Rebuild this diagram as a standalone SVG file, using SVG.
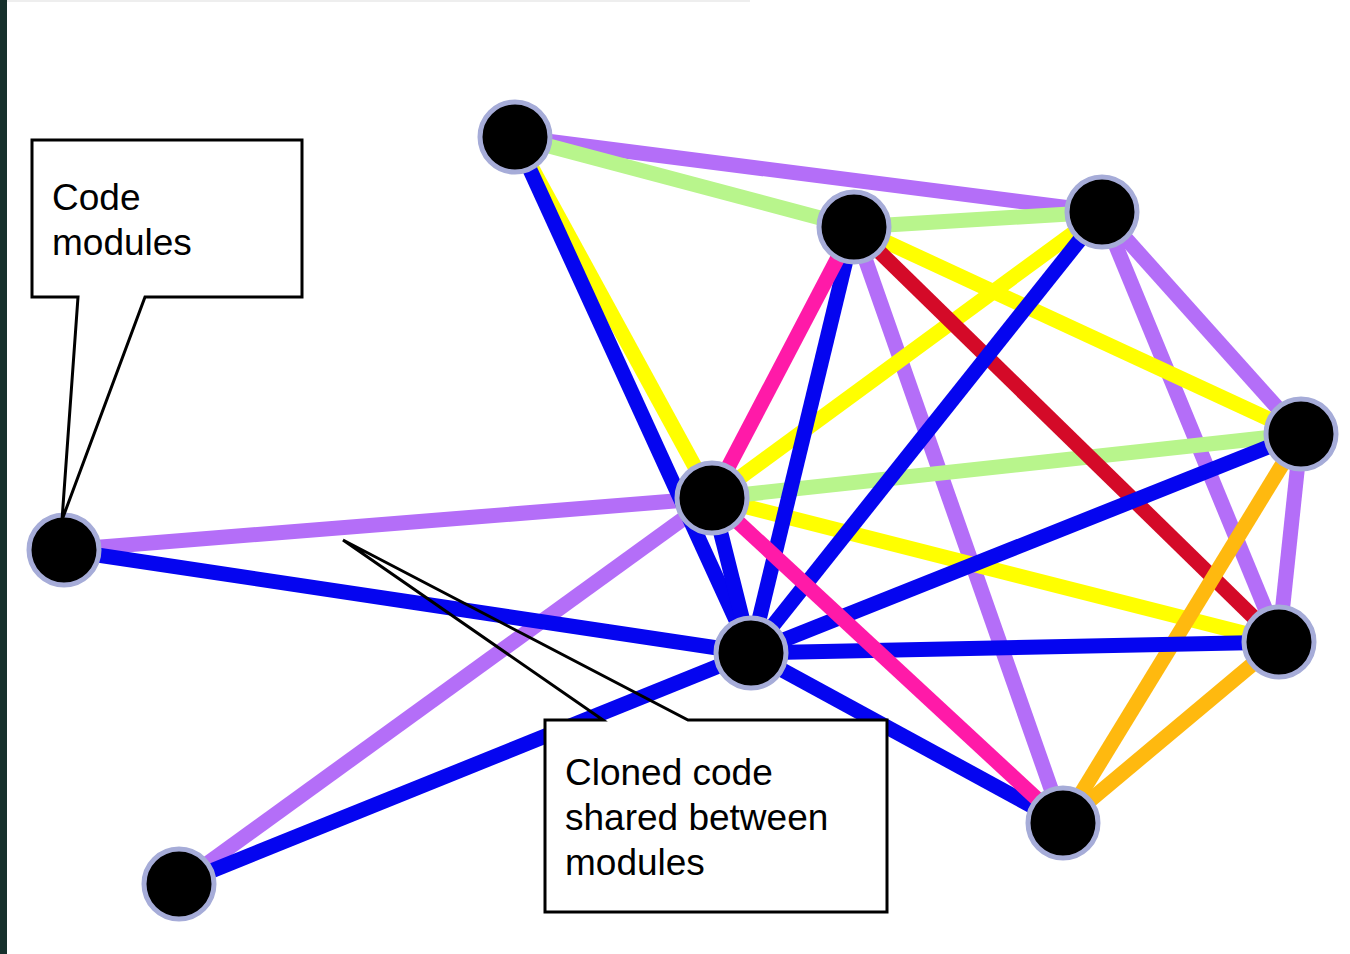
<svg xmlns="http://www.w3.org/2000/svg" width="1350" height="954" viewBox="0 0 1350 954">
<style>
.e{stroke-width:15;stroke-linecap:butt;fill:none}
.pu{stroke:#b46ef8}.gr{stroke:#b8f58c}.ye{stroke:#ffff00}.bl{stroke:#0505f0}
.mg{stroke:#ff1aa8}.rd{stroke:#d40a28}.or{stroke:#ffb90f}
.n{fill:#000;stroke:#a6acd8;stroke-width:5}
.t{font-family:"Liberation Sans",Arial,sans-serif;font-size:37px;fill:#000}
.co{fill:none;stroke:#000;stroke-width:3;stroke-linejoin:miter}
</style>
<rect width="1350" height="954" fill="#fff"/>
<rect x="0" y="0" width="7" height="954" fill="#16302c"/>
<rect x="7" y="0" width="743" height="2" fill="#eeeeee"/>
<g id="connectors">
<line class="e pu" x1="515" y1="137" x2="1102" y2="212"/>
<line class="e gr" x1="515" y1="137" x2="854" y2="227"/>
<line class="e gr" x1="854" y1="227" x2="1102" y2="212"/>
<line class="e pu" x1="1102" y1="212" x2="1301" y2="434"/>
<line class="e pu" x1="1102" y1="212" x2="1279" y2="642"/>
<line class="e pu" x1="1301" y1="434" x2="1279" y2="642"/>
<line class="e pu" x1="854" y1="227" x2="1063" y2="823"/>
<line class="e pu" x1="712" y1="498" x2="64" y2="550"/>
<line class="e pu" x1="712" y1="498" x2="179" y2="884"/>
<line class="e ye" x1="515" y1="137" x2="712" y2="498"/>
<line class="e ye" x1="854" y1="227" x2="1301" y2="434"/>
<line class="e ye" x1="1102" y1="212" x2="712" y2="498"/>
<line class="e ye" x1="712" y1="498" x2="1279" y2="642"/>
<line class="e gr" x1="712" y1="498" x2="1301" y2="434"/>
<line class="e rd" x1="854" y1="227" x2="1279" y2="642"/>
<line class="e or" x1="1301" y1="434" x2="1063" y2="823"/>
<line class="e or" x1="1279" y1="642" x2="1063" y2="823"/>
<line class="e bl" x1="515" y1="137" x2="751" y2="653"/>
<line class="e bl" x1="712" y1="498" x2="751" y2="653"/>
<line class="e bl" x1="854" y1="227" x2="751" y2="653"/>
<line class="e bl" x1="1102" y1="212" x2="751" y2="653"/>
<line class="e bl" x1="1301" y1="434" x2="751" y2="653"/>
<line class="e bl" x1="1279" y1="642" x2="751" y2="653"/>
<line class="e bl" x1="64" y1="550" x2="751" y2="653"/>
<line class="e bl" x1="179" y1="884" x2="751" y2="653"/>
<line class="e bl" x1="751" y1="653" x2="1063" y2="823"/>
<line class="e mg" x1="854" y1="227" x2="712" y2="498"/>
<line class="e mg" x1="712" y1="498" x2="1063" y2="823"/>
</g>
<g id="node-a"><circle class="n" cx="515" cy="137" r="35"/></g>
<g id="node-b"><circle class="n" cx="854" cy="227" r="35"/></g>
<g id="node-c"><circle class="n" cx="1102" cy="212" r="35"/></g>
<g id="node-d"><circle class="n" cx="1301" cy="434" r="35"/></g>
<g id="node-e"><circle class="n" cx="712" cy="498" r="35"/></g>
<g id="node-f"><circle class="n" cx="64" cy="550" r="35"/></g>
<g id="node-g"><circle class="n" cx="751" cy="653" r="35"/></g>
<g id="node-h"><circle class="n" cx="1279" cy="642" r="35"/></g>
<g id="node-i"><circle class="n" cx="1063" cy="823" r="35"/></g>
<g id="node-j"><circle class="n" cx="179" cy="884" r="35"/></g>
<g id="callout-code-modules">
<rect x="32" y="140" width="270" height="157" fill="#fff"/>
<path class="co" d="M32,140 H302 V297 H145 L62,520 L78,297 H32 Z"/>
<text class="t" x="52" y="210">Code</text>
<text class="t" x="52" y="255">modules</text>
</g>
<g id="callout-cloned-code">
<rect x="545" y="720" width="342" height="192" fill="#fff"/>
<path class="co" d="M545,720 H603 L343,540 L688,720 H887 V912 H545 Z"/>
<text class="t" x="565" y="785">Cloned code</text>
<text class="t" x="565" y="830">shared between</text>
<text class="t" x="565" y="875">modules</text>
</g>
</svg>
